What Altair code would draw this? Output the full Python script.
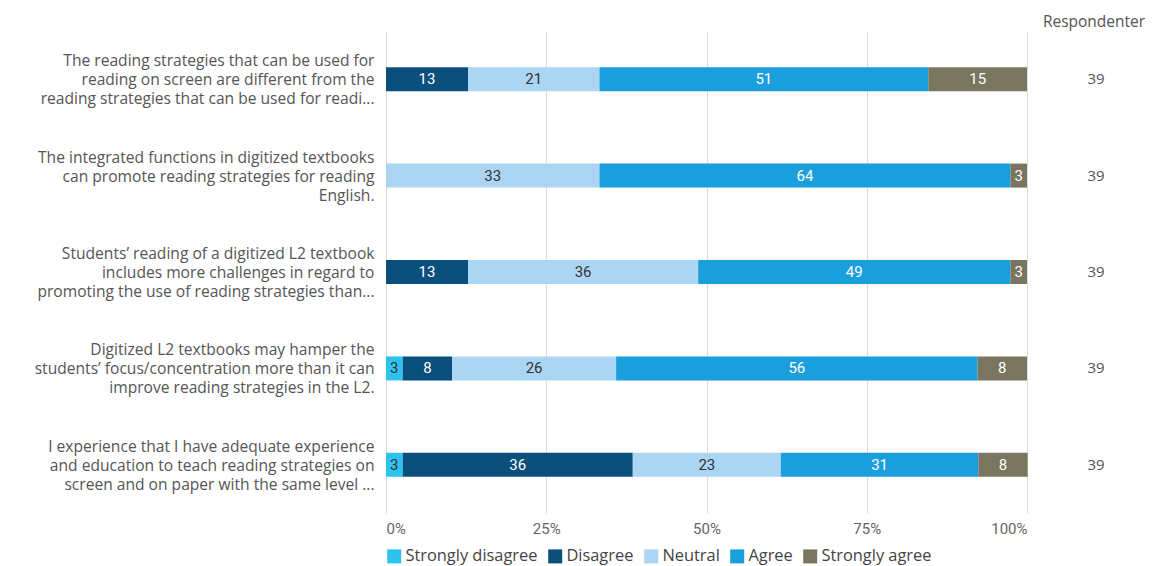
import altair as alt
import pandas as pd

questions = [
    "The reading strategies that can be used for|reading on screen are different from the|reading strategies that can be used for readi...",
    "The integrated functions in digitized textbooks|can promote reading strategies for reading|English.",
    "Students’ reading of a digitized L2 textbook|includes more challenges in regard to|promoting the use of reading strategies than...",
    "Digitized L2 textbooks may hamper the|students’ focus/concentration more than it can|improve reading strategies in the L2.",
    "I experience that I have adequate experience|and education to teach reading strategies on|screen and on paper with the same level ...",
]
categories = ["Strongly disagree", "Disagree", "Neutral", "Agree", "Strongly agree"]
colors = ["#2ec2ee", "#0b4f7c", "#abd5f3", "#1b9edc", "#79765f"]

# percentage of respondents per question (rows) and category (columns)
pct = [
    [0.0, 12.8, 20.5, 51.3, 15.4],
    [0.0, 0.0, 33.3, 64.1, 2.6],
    [0.0, 12.8, 35.9, 48.7, 2.6],
    [2.6, 7.7, 25.6, 56.4, 7.7],
    [2.6, 35.9, 23.1, 30.8, 7.7],
]
labels = [
    [0, 13, 21, 51, 15],
    [0, 0, 33, 64, 3],
    [0, 13, 36, 49, 3],
    [3, 8, 26, 56, 8],
    [3, 36, 23, 31, 8],
]
respondents = [39, 39, 39, 39, 39]

rows = []
for qi, q in enumerate(questions):
    for ci, c in enumerate(categories):
        rows.append({"question": q, "category": c, "order": ci,
                     "value": pct[qi][ci], "label": str(labels[qi][ci])})
df = pd.DataFrame(rows)
df_resp = pd.DataFrame({"question": questions, "n": [str(v) for v in respondents]})
df_head = pd.DataFrame({"t": ["Respondenter"]})

FONT = "Roboto"
WFONT = "Open Sans"

y_enc = alt.Y(
    "question:N", sort=questions, title=None,
    scale=alt.Scale(paddingInner=0, paddingOuter=0),
    axis=alt.Axis(
        labelExpr="split(datum.label, '|')", ticks=False, domain=False,
        labelPadding=12, labelFontSize=15.6, labelColor="#555555",
        labelLineHeight=19, labelLimit=400, labelFont=WFONT, grid=False,
        labelOffset=-18,
    ),
)

base = alt.Chart(df).transform_filter("datum.value > 0")

bars = base.mark_bar(size=24).encode(
    x=alt.X(
        "value:Q", stack="zero", title=None,
        scale=alt.Scale(domain=[0, 100], nice=False),
        axis=alt.Axis(
            values=[0, 25, 50, 75, 100], labelExpr="datum.value + '%'",
            grid=True, gridColor="#dcdcdc", domain=False, ticks=False,
            labelFlush=True, labelPadding=8, labelFontSize=15,
            labelColor="#666666", labelFont=FONT,
        ),
    ),
    y=y_enc,
    color=alt.Color(
        "category:N", sort=categories,
        scale=alt.Scale(domain=categories, range=colors),
        legend=alt.Legend(
            title=None, orient="none", direction="horizontal",
            legendX=0, legendY=517, symbolType="square", symbolSize=196,
            symbolStrokeWidth=0, symbolOpacity=1, labelFontSize=16.4,
            labelColor="#444444", labelFont=WFONT, columnPadding=9,
            labelOffset=3,
        ),
    ),
    order=alt.Order("order:Q"),
)

texts = base.transform_stack(
    stack="value", groupby=["question"], as_=["v0", "v1"],
    sort=[alt.SortField("order", order="ascending")],
).transform_calculate(mid="(datum.v0 + datum.v1) / 2").mark_text(
    fontSize=15, font=FONT, baseline="middle", align="center"
).encode(
    x=alt.X("mid:Q"),
    y=alt.Y("question:N", sort=questions),
    text="label:N",
    color=alt.condition(
        alt.FieldOneOfPredicate(field="category", oneOf=["Neutral", "Strongly disagree"]),
        alt.value("#333333"), alt.value("#ffffff"),
    ),
)

resp = alt.Chart(df_resp).mark_text(
    fontSize=15, font=WFONT, color="#555555", align="center", baseline="middle"
).encode(
    x=alt.value(710), y=alt.Y("question:N", sort=questions), text="n:N"
)

head = alt.Chart(df_head).mark_text(
    fontSize=15.5, font=WFONT, color="#555555", align="center", baseline="middle"
).encode(x=alt.value(708), y=alt.value(-9), text="t:N")

chart = alt.layer(bars, texts, resp, head).properties(
    width=641, height=482,
    padding={"left": 378, "top": 23, "right": 120, "bottom": 55},
    autosize=alt.AutoSizeParams(type="none"),
).configure_view(stroke=None)

chart.save("out.html", embed_options={"renderer": "svg", "actions": False})
